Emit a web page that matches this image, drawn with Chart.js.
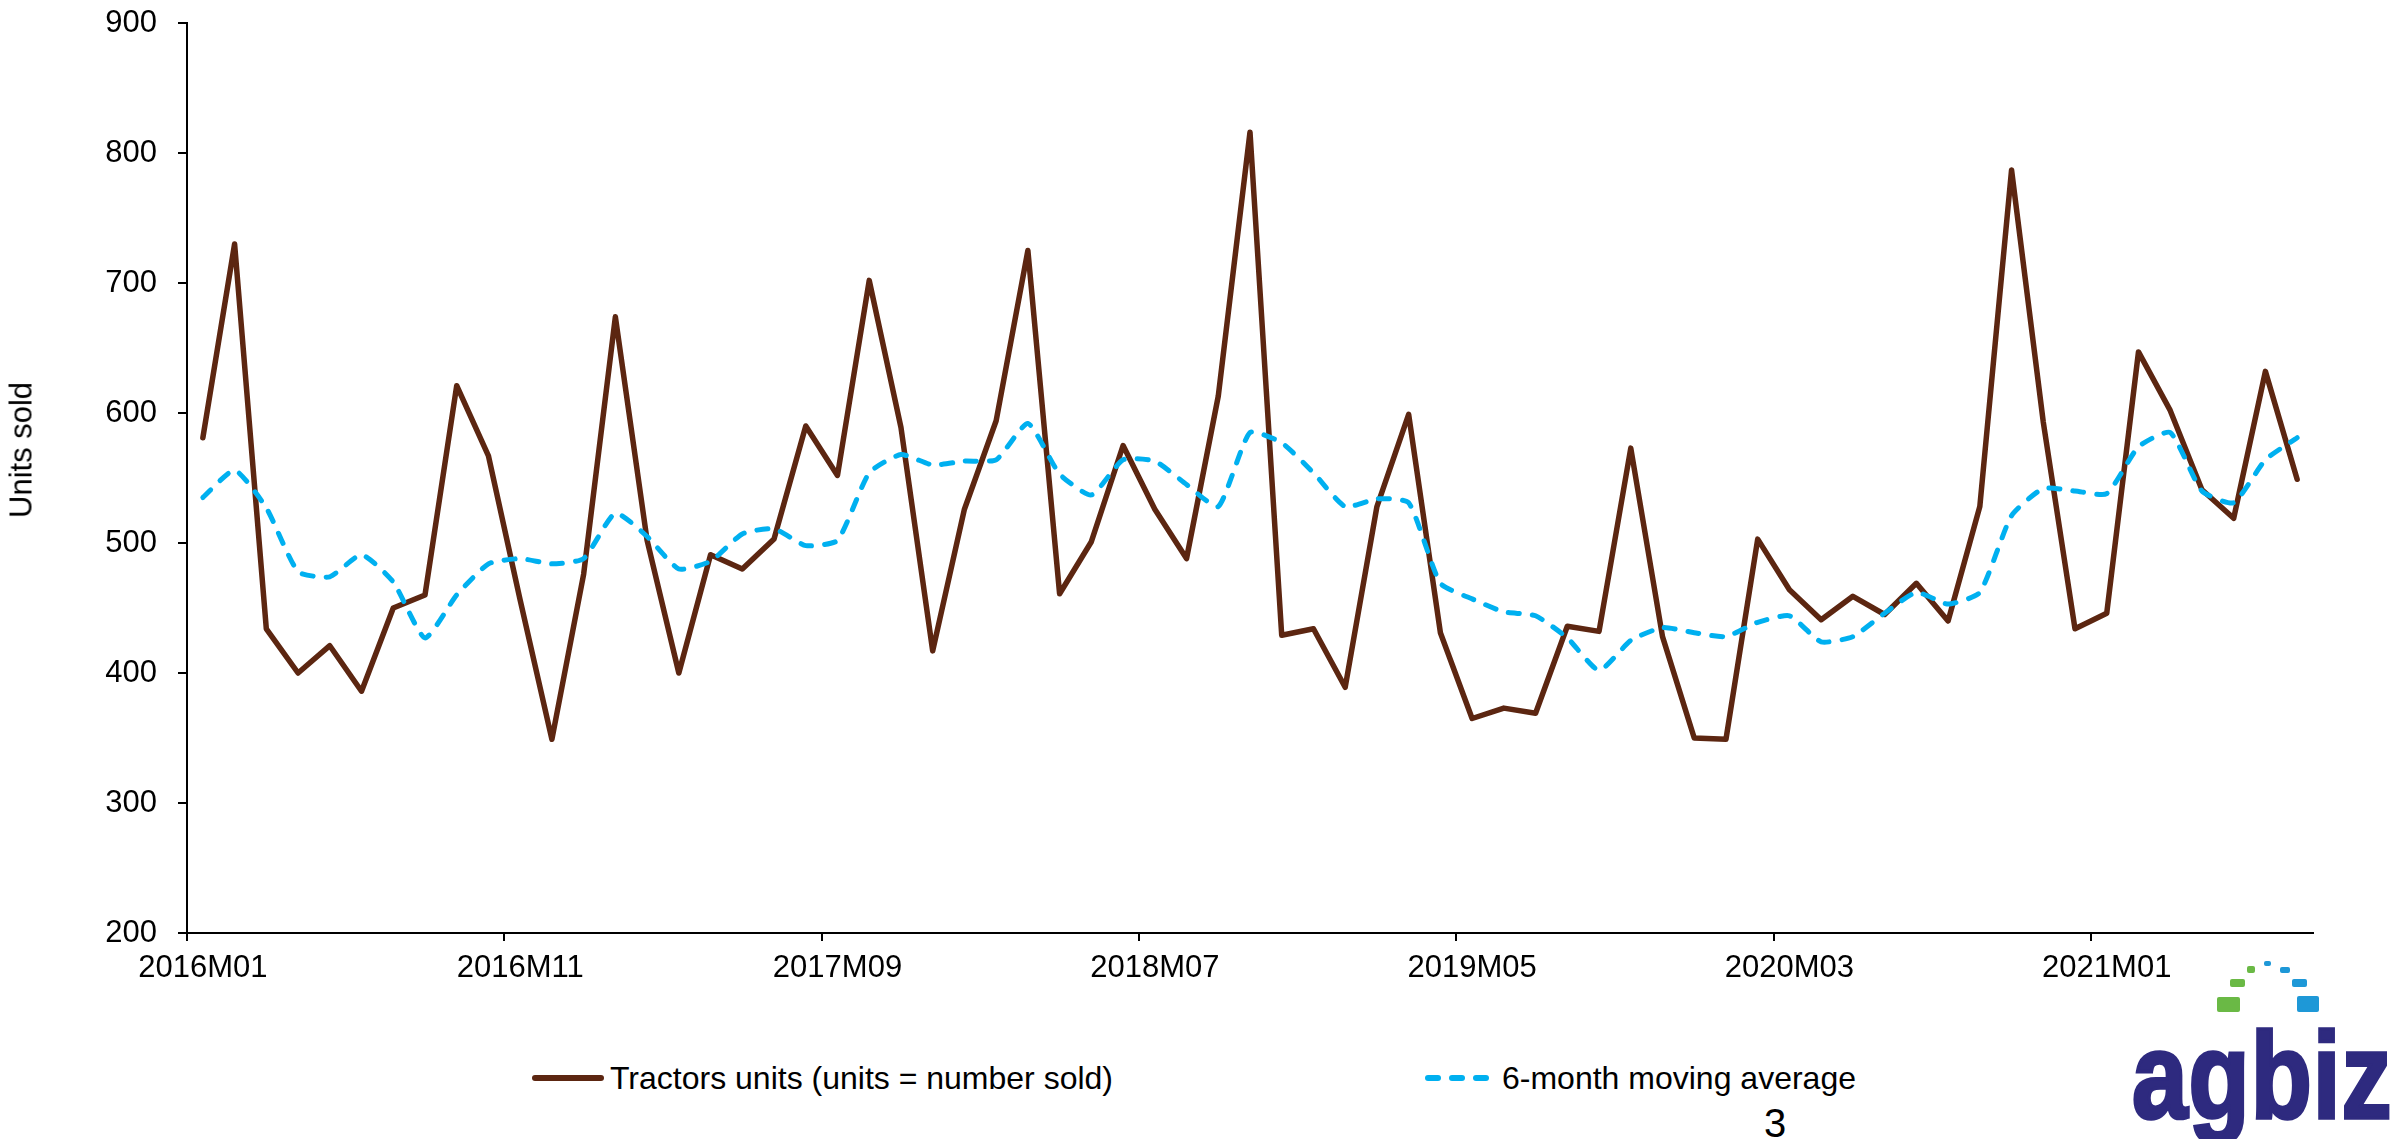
<!DOCTYPE html>
<html>
<head>
<meta charset="utf-8">
<script src="https://cdn.jsdelivr.net/npm/chart.js@4.4.1/dist/chart.umd.min.js"></script>
<style>
  html, body { margin: 0; padding: 0; background: #fff; }
  body { width: 2395px; height: 1139px; position: relative; overflow: hidden;
         font-family: "Liberation Sans", Arial, sans-serif; color: #000; }
  #wrap { position: absolute; left: 0; top: 0; width: 2395px; height: 1000px; }
  .ytitle { position: absolute; left: 21px; top: 450px; font-size: 31px; line-height: 31px;
            white-space: nowrap; transform: translate(-50%, -50%) rotate(-90deg); }
  .legtext { position: absolute; top: 1062px; font-size: 32px; line-height: 32px; white-space: nowrap; }
  .sw { position: absolute; border-radius: 3px; }
  .page { position: absolute; left: 1764px; top: 1103px; font-size: 40px; line-height: 40px; }
  .logo { position: absolute; left: 2132px; top: 1014px; font-size: 100px; line-height: 100px; font-weight: bold;
          letter-spacing: 1px; color: #2E2A7F; -webkit-text-stroke: 3px #2E2A7F;
          transform: scaleY(1.22); transform-origin: left top; white-space: nowrap; }
  .sq { position: absolute; border-radius: 2px; }
</style>
</head>
<body>
<div id="wrap"><canvas id="c"></canvas></div>
<div class="ytitle">Units sold</div>
<div id="legend"></div>
<div class="page">3</div>
<div class="logo">agbiz</div>
<div class="sq" style="left:2217px;top:997px;width:23px;height:15px;background:#6AB945"></div>
<div class="sq" style="left:2230px;top:979px;width:15px;height:8px;background:#6AB945"></div>
<div class="sq" style="left:2247px;top:966px;width:8px;height:7px;background:#6AB945"></div>
<div class="sq" style="left:2264px;top:961px;width:7px;height:5px;background:#1E98D7"></div>
<div class="sq" style="left:2280px;top:967px;width:10px;height:6px;background:#1E98D7"></div>
<div class="sq" style="left:2292px;top:979px;width:15px;height:8px;background:#1E98D7"></div>
<div class="sq" style="left:2297px;top:996px;width:22px;height:16px;background:#1E98D7"></div>
<script>
// ---- data ----
const months = [
  '2016M01','2016M02','2016M03','2016M04','2016M05','2016M06','2016M07','2016M08','2016M09','2016M10','2016M11','2016M12',
  '2017M01','2017M02','2017M03','2017M04','2017M05','2017M06','2017M07','2017M08','2017M09','2017M10','2017M11','2017M12',
  '2018M01','2018M02','2018M03','2018M04','2018M05','2018M06','2018M07','2018M08','2018M09','2018M10','2018M11','2018M12',
  '2019M01','2019M02','2019M03','2019M04','2019M05','2019M06','2019M07','2019M08','2019M09','2019M10','2019M11','2019M12',
  '2020M01','2020M02','2020M03','2020M04','2020M05','2020M06','2020M07','2020M08','2020M09','2020M10','2020M11','2020M12',
  '2021M01','2021M02','2021M03','2021M04','2021M05','2021M06','2021M07'
];
const tractorUnits = [
  581, 730, 434, 400, 421, 386, 450, 460, 621, 567,
  456, 349, 476, 674, 502, 400, 491, 480, 503, 590,
  552, 702, 589, 417, 526, 594, 725, 461, 501, 575,
  526, 488, 613, 816, 429, 434, 389, 528, 599, 431,
  365, 373, 369, 436, 432, 573, 428, 350, 349, 503,
  464, 441, 459, 445, 469, 440, 528, 787, 593, 434,
  446, 647, 602, 541, 519, 632, 549
];
const movingAverage6 = [
  535, 556, 527, 478, 474, 491, 470, 427, 460, 484,
  488, 484, 488, 523, 505, 480, 486, 507, 511, 498,
  502, 554, 568, 560, 563, 564, 592, 553, 537, 564,
  563, 545, 528, 585, 577, 554, 528, 534, 531, 469,
  457, 447, 444, 427, 402, 425, 435, 431, 428, 439,
  444, 424, 428, 446, 462, 453, 462, 521, 542, 540,
  538, 574, 585, 540, 531, 564, 581
];
const xTickLabels = ['2016M01','2016M11','2017M09','2018M07','2019M05','2020M03','2021M01'];
const yMin = 200, yMax = 900, yStep = 100;
const seriesNames = ['Tractors units (units = number sold)', '6-month moving average'];
const seriesColors = ['#5C2611', '#00B0F0'];

// ---- legend (HTML) ----
const leg = document.getElementById('legend');
leg.innerHTML =
  '<div class="sw" style="left:532px;top:1075px;width:72px;height:6px;background:' + seriesColors[0] + '"></div>' +
  '<div class="legtext" style="left:610px">' + seriesNames[0] + '</div>' +
  '<div class="sw" style="left:1425px;top:1075px;width:16px;height:6px;background:' + seriesColors[1] + '"></div>' +
  '<div class="sw" style="left:1449px;top:1075px;width:16px;height:6px;background:' + seriesColors[1] + '"></div>' +
  '<div class="sw" style="left:1473px;top:1075px;width:16px;height:6px;background:' + seriesColors[1] + '"></div>' +
  '<div class="legtext" style="left:1502px">' + seriesNames[1] + '</div>';

// ---- chart ----
const FONT = '"Liberation Sans", Arial, sans-serif';
const tickCol = c => (c.index !== undefined && c.index % 10 === 0) ? '#000' : 'rgba(0,0,0,0)';

new Chart(document.getElementById('c'), {
  type: 'line',
  data: {
    labels: months,
    datasets: [
      { label: seriesNames[0], data: tractorUnits, borderColor: seriesColors[0], backgroundColor: seriesColors[0],
        borderWidth: 5.5, pointRadius: 0, tension: 0, borderJoinStyle: 'round', borderCapStyle: 'round',
        fill: false, order: 1 },
      { label: seriesNames[1], data: movingAverage6, borderColor: seriesColors[1], backgroundColor: seriesColors[1],
        borderWidth: 5, borderDash: [11, 13], borderCapStyle: 'round', pointRadius: 0, tension: 0.18,
        fill: false, order: 0 }
    ]
  },
  options: {
    responsive: true,
    maintainAspectRatio: false,
    animation: false,
    layout: { padding: { left: 0, top: 23, right: 82, bottom: 0 } },
    plugins: { legend: { display: false }, tooltip: { enabled: false } },
    scales: {
      x: {
        type: 'category',
        offset: true,
        grid: { offset: true, drawOnChartArea: false, drawTicks: true, tickLength: 8, lineWidth: 2,
                color: tickCol, tickColor: tickCol },
        border: { display: true, color: '#000', width: 2 },
        ticks: {
          autoSkip: false, maxRotation: 0, minRotation: 0, padding: 9, color: '#000',
          font: { family: FONT, size: 31 },
          callback: function (v) { const l = this.getLabelForValue(v); return xTickLabels.includes(l) ? l : ''; }
        },
        afterFit: s => { s.height = 67; s.paddingLeft = 0; s.paddingRight = 0; }
      },
      y: {
        min: yMin, max: yMax,
        grid: { drawOnChartArea: false, drawTicks: true, tickLength: 9, lineWidth: 2, color: '#000' },
        border: { display: true, color: '#000', width: 2 },
        ticks: { stepSize: yStep, padding: 21, color: '#000', font: { family: FONT, size: 31 } },
        afterFit: s => { s.width = 187; s.paddingTop = 0; s.paddingBottom = 0; }
      }
    }
  }
});
</script>
</body>
</html>
